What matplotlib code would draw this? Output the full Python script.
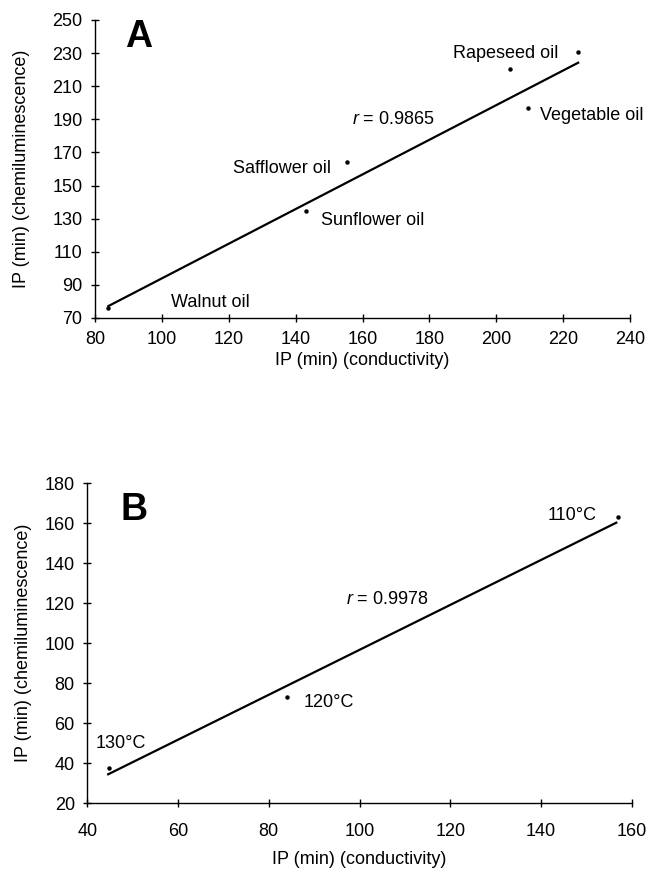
import matplotlib
matplotlib.use("Agg")
import matplotlib.pyplot as plt

plt.rcParams["font.family"] = ["Liberation Sans", "DejaVu Sans"]
plt.rcParams["mathtext.fontset"] = "custom"
plt.rcParams["mathtext.it"] = "Liberation Sans:italic"
plt.rcParams["mathtext.rm"] = "Liberation Sans"

# Panel A: oils
oil_names = ["Walnut oil", "Sunflower oil", "Safflower oil", "Rapeseed oil", "Rapeseed oil", "Vegetable oil"]
oil_cond = [83.8, 143.1, 155.3, 204.1, 224.5, 209.6]
oil_chem = [75.9, 134.9, 164.0, 220.2, 230.8, 196.6]
oil_fit_x = [84.0, 224.5]
oil_fit_y = [77.2, 224.2]
oil_r = "0.9865"
oil_xticks = list(range(80, 241, 20))
oil_yticks = list(range(70, 251, 20))

# Panel B: temperatures
temp_names = ["130°C", "120°C", "110°C"]
temp_cond = [44.8, 84.0, 157.0]
temp_chem = [37.5, 73.3, 163.0]
temp_fit_x = [44.6, 156.6]
temp_fit_y = [34.5, 160.3]
temp_r = "0.9978"
temp_xticks = list(range(40, 161, 20))
temp_yticks = list(range(20, 181, 20))

FS = 13
W, H = 649, 873


def style_axes(ax, xticks, yticks, xpad, ylab_x, xlab_y):
    for side in ("top", "right"):
        ax.spines[side].set_visible(False)
    for side in ("left", "bottom"):
        ax.spines[side].set_linewidth(1.0)
    ax.set_xticks(xticks)
    ax.set_yticks(yticks)
    ax.set_xlim(xticks[0], xticks[-1])
    ax.set_ylim(yticks[0], yticks[-1])
    ax.tick_params(direction="inout", length=6, width=1.0, labelsize=FS)
    ax.tick_params(axis="y", pad=6)
    ax.tick_params(axis="x", pad=xpad)
    ax.set_xlabel("IP (min) (conductivity)", fontsize=FS)
    ax.set_ylabel("IP (min) (chemiluminescence)", fontsize=FS)
    ax.yaxis.set_label_coords(ylab_x, 0.5)
    ax.xaxis.set_label_coords(0.5, xlab_y)


fig = plt.figure(figsize=(W / 100, H / 100), dpi=100)

axA = fig.add_axes([95 / W, 1 - 318 / H, (630 - 95) / W, (318 - 20) / H])
style_axes(axA, oil_xticks, oil_yticks, 6, -0.122, -0.114)
axA.plot(oil_cond, oil_chem, "o", color="black", markersize=2.2)
axA.plot(oil_fit_x, oil_fit_y, color="black", linewidth=1.6)
axA.text(89, 233.6, "A", fontsize=27, fontweight="bold", va="baseline")
oil_label_pos = {
    "Walnut oil": (102.6, 76.8),
    "Sunflower oil": (147.5, 126.2),
    "Safflower oil": (121.4, 157.7),
    "Rapeseed oil": (187.0, 227.0),
    "Vegetable oil": (213.0, 189.6),
}
for name, (tx, ty) in oil_label_pos.items():
    axA.text(tx, ty, name, fontsize=FS, va="baseline", clip_on=False)
axA.text(156.8, 187.0, "$r$ = " + oil_r, fontsize=FS, va="baseline")

axB = fig.add_axes([87.3 / W, 1 - 803.3 / H, (631.7 - 87.3) / W, (803.3 - 483.3) / H])
style_axes(axB, temp_xticks, temp_yticks, 11, -0.102, -0.149)
axB.plot(temp_cond, temp_chem, "o", color="black", markersize=2.2)
axB.plot(temp_fit_x, temp_fit_y, color="black", linewidth=1.6)
axB.text(47.4, 161.7, "B", fontsize=27, fontweight="bold", va="baseline")
temp_label_pos = [(41.9, 47.5), (87.6, 68.3), (141.5, 161.7)]
for name, (tx, ty) in zip(temp_names, temp_label_pos):
    axB.text(tx, ty, name, fontsize=FS, va="baseline")
axB.text(97.1, 119.6, "$r$ = " + temp_r, fontsize=FS, va="baseline")

fig.savefig("out.png", dpi=100)
